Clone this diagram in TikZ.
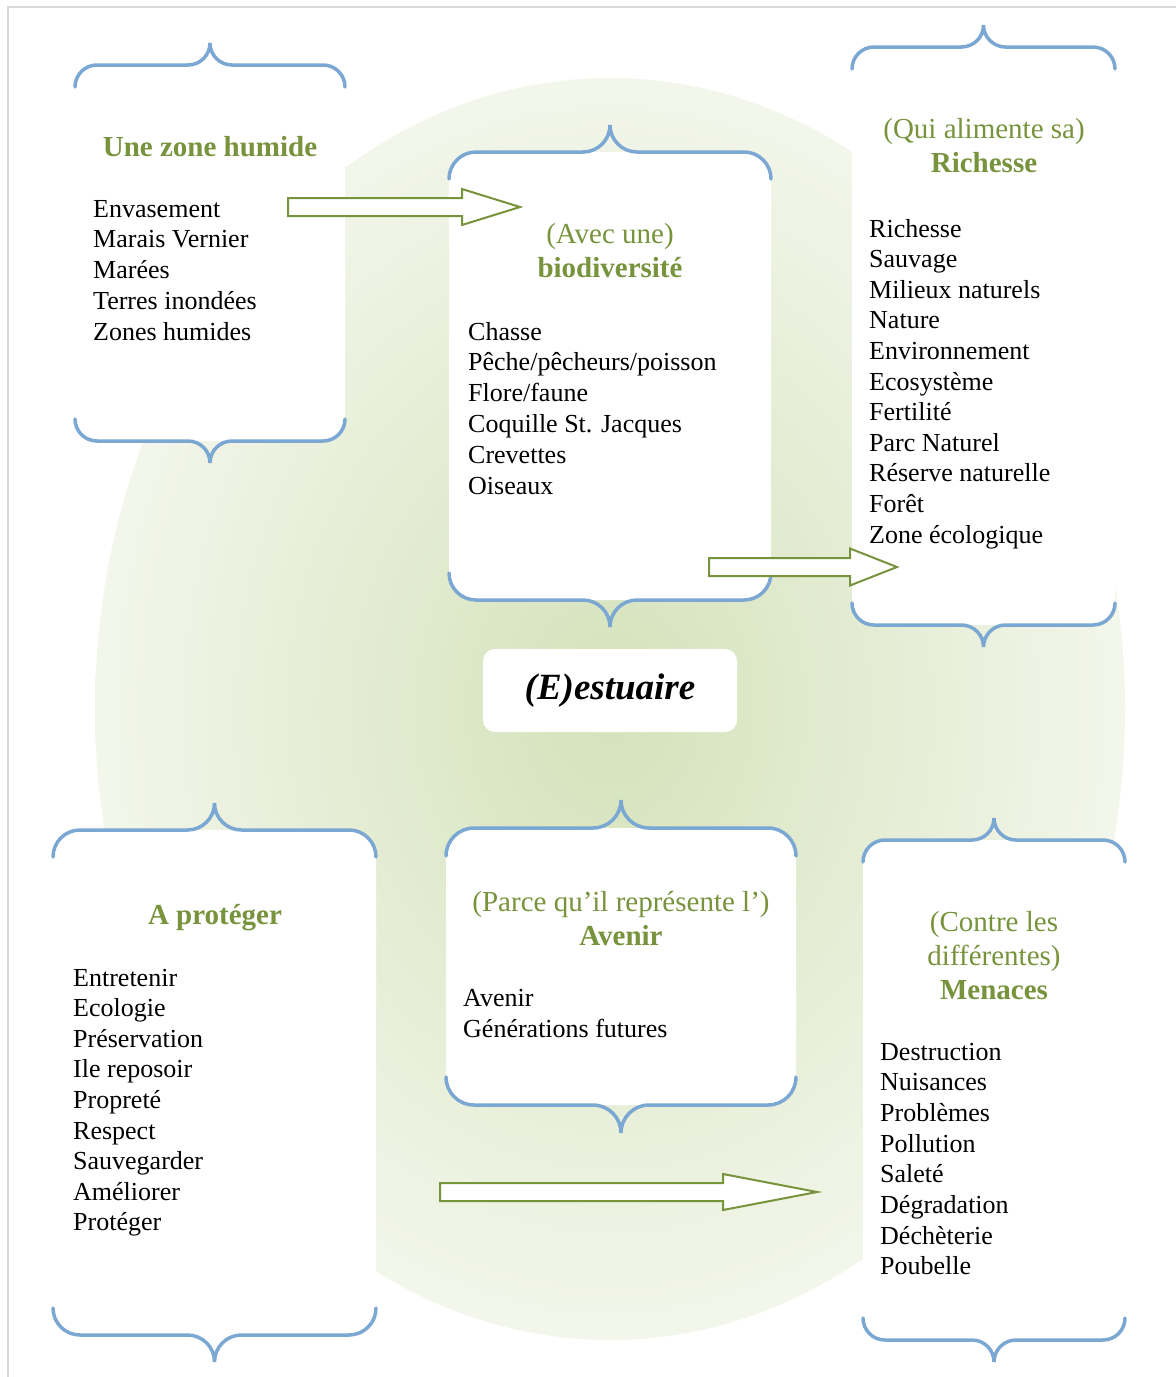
\documentclass[tikz,border=0pt]{standalone}
\usepackage{fontspec}
\setmainfont{Liberation Serif}
\usetikzlibrary{calc}

\definecolor{olive}{HTML}{77933C}
\definecolor{braceblue}{HTML}{7BA7D3}
\definecolor{framegray}{HTML}{D9D9D9}
\definecolor{glowin}{RGB}{212,226,186}
\definecolor{glowout}{RGB}{243,246,235}

\tikzset{
  item/.style={anchor=base west, inner sep=0pt, font=\fontsize{26}{31}\selectfont},
  head/.style={anchor=base, inner sep=0pt, text=olive, font=\fontsize{29}{34}\selectfont},
  headbf/.style={anchor=base, inner sep=0pt, text=olive, font=\fontsize{29}{34}\selectfont\bfseries},
  bracepen/.style={draw=braceblue, line width=3.5pt, line cap=round},
  blockarrow/.style={draw=olive, fill=white, line width=2pt, line join=miter},
  estbox/.style={fill=white, rounded corners=12pt, minimum width=254pt, minimum height=83pt,
    font=\fontsize{37}{40}\selectfont\bfseries\itshape},
}

% white panel with a curly brace on top and one below
% #1 left x, #2 right x, #3 top line, #4 bottom line, #5 curl size
\newcommand{\bracebox}[5]{%
  \pgfmathsetmacro{\bxmid}{(#1+#2)/2}
  \fill[white, rounded corners=#5pt] (#1,#3) rectangle (#2,#4);
  \draw[bracepen] (#1,#3+#5) to[out=90,in=180] (#1+#5,#3) -- (\bxmid-#5,#3)
    to[out=0,in=-90] (\bxmid,#3-#5) to[out=-90,in=180] (\bxmid+#5,#3)
    -- (#2-#5,#3) to[out=0,in=90] (#2,#3+#5);
  \draw[bracepen] (#1,#4-#5) to[out=-90,in=180] (#1+#5,#4) -- (\bxmid-#5,#4)
    to[out=0,in=90] (\bxmid,#4+#5) to[out=90,in=180] (\bxmid+#5,#4)
    -- (#2-#5,#4) to[out=0,in=-90] (#2,#4-#5);
}

\begin{document}
\begin{tikzpicture}[x=1pt,y=-1pt]
\useasboundingbox (0,0) rectangle (1176,1377);
\draw[framegray, line width=2pt] (8,1377) -- (8,7) -- (1176,7);

% green glow behind everything
\shade[inner color=glowin, outer color=glowout] (610,709) ellipse [x radius=515pt, y radius=631pt];

% the six panels
\bracebox{75}{345}{65}{441}{22}
\bracebox{449}{771}{152}{600}{27}
\bracebox{852}{1115}{47}{625}{22}
\bracebox{53}{376}{830}{1335}{27}
\bracebox{446}{796}{828}{1105}{28}
\bracebox{863}{1125}{840}{1340}{22}

% centre word
\node[estbox] (estuaire) at (610,690.5) {\raisebox{2pt}{(E)estuaire}};

% arrows
\coordinate (a1tail) at (288,207);
\coordinate (a1tip) at (520,207);
\draw[blockarrow] ($(a1tail)+(0,-9)$) -- ($(a1tip)+(-58,-9)$) -- ($(a1tip)+(-58,-18)$) -- (a1tip)
  -- ($(a1tip)+(-58,18)$) -- ($(a1tip)+(-58,9)$) -- ($(a1tail)+(0,9)$) -- cycle;
\coordinate (a2tail) at (709,567);
\coordinate (a2tip) at (897,567);
\draw[blockarrow] ($(a2tail)+(0,-9)$) -- ($(a2tip)+(-47,-9)$) -- ($(a2tip)+(-47,-18.5)$) -- (a2tip)
  -- ($(a2tip)+(-47,18.5)$) -- ($(a2tip)+(-47,9)$) -- ($(a2tail)+(0,9)$) -- cycle;
\coordinate (a3tail) at (440,1192);
\coordinate (a3tip) at (817,1192);
\draw[blockarrow] ($(a3tail)+(0,-9)$) -- ($(a3tip)+(-94,-9)$) -- ($(a3tip)+(-94,-18)$) -- (a3tip)
  -- ($(a3tip)+(-94,18)$) -- ($(a3tip)+(-94,9)$) -- ($(a3tail)+(0,9)$) -- cycle;

% Une zone humide
\node[headbf] (zhtitle) at (210,156) {Une zone humide};
\foreach \t [count=\i from 0] in {Envasement, Marais Vernier, Marées, Terres inondées, Zones humides}
  \node[item] (zh\i) at (93,217+30.8*\i) {\t};

% biodiversite
\node[head] (biosub) at (610,243) {(Avec une)};
\node[headbf] (biotitle) at (610,277) {biodiversité};
\foreach \t [count=\i from 0] in {Chasse, {Pêche/pêcheurs/poisson}, {Flore/faune}, Coquille St. Jacques, Crevettes, Oiseaux}
  \node[item] (bio\i) at (468,340+30.8*\i) {\t};

% richesse
\node[head] (richsub) at (984,138) {(Qui alimente sa)};
\node[headbf] (richtitle) at (984,172) {Richesse};
\foreach \t [count=\i from 0] in {Richesse, Sauvage, Milieux naturels, Nature, Environnement, Ecosystème, Fertilité, Parc Naturel, Réserve naturelle, Forêt, Zone écologique}
  \node[item] (rich\i) at (869,237+30.6*\i) {\t};

% a proteger
\node[headbf] (prottitle) at (215,924) {A protéger};
\foreach \t [count=\i from 0] in {Entretenir, Ecologie, Préservation, Ile reposoir, Propreté, Respect, Sauvegarder, Améliorer, Protéger}
  \node[item] (prot\i) at (73,986+30.6*\i) {\t};

% avenir
\node[head] (avsub) at (621,911) {(Parce qu’il représente l’)};
\node[headbf] (avtitle) at (621,945) {Avenir};
\node[item] (av0) at (463,1006) {Avenir};
\node[item] (av1) at (463,1037) {Générations futures};

% menaces
\node[head] (mensub1) at (994,931) {(Contre les};
\node[head] (mensub2) at (994,965) {différentes)};
\node[headbf] (mentitle) at (994,999) {Menaces};
\foreach \t [count=\i from 0] in {Destruction, Nuisances, Problèmes, Pollution, Saleté, Dégradation, Déchèterie, Poubelle}
  \node[item] (men\i) at (880,1060+30.7*\i) {\t};
\end{tikzpicture}
\end{document}
